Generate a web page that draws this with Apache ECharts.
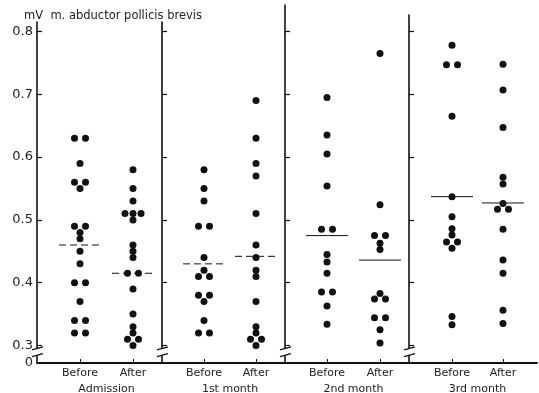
<!DOCTYPE html>
<html>
<head>
<meta charset="utf-8">
<script src="https://cdn.jsdelivr.net/npm/echarts@6/dist/echarts.min.js"></script>
<style>html,body{margin:0;padding:0;background:#fff}#c{width:539px;height:393px}</style>
</head>
<body>
<div id="c"></div>
<script>
// ---- data ----
const categories = ['Before', 'After'];
const groups = ['Admission', '1st month', '2nd month', '3rd month'];
const unitLabel = 'mV  m. abductor pollicis brevis';

const admissionBefore = [0.63, 0.63, 0.59, 0.56, 0.56, 0.55, 0.49, 0.49, 0.48, 0.47, 0.45, 0.43, 0.40, 0.40, 0.37, 0.34, 0.34, 0.32, 0.32];
const admissionAfter  = [0.58, 0.55, 0.53, 0.51, 0.51, 0.51, 0.50, 0.46, 0.45, 0.44, 0.415, 0.415, 0.39, 0.35, 0.33, 0.32, 0.31, 0.31, 0.30];
const month1Before    = [0.58, 0.55, 0.53, 0.49, 0.49, 0.44, 0.42, 0.41, 0.41, 0.38, 0.38, 0.37, 0.34, 0.32, 0.32];
const month1After     = [0.69, 0.63, 0.59, 0.57, 0.51, 0.46, 0.44, 0.42, 0.41, 0.37, 0.33, 0.32, 0.31, 0.31, 0.30];
const month2Before    = [0.695, 0.635, 0.605, 0.554, 0.485, 0.485, 0.445, 0.433, 0.415, 0.385, 0.385, 0.363, 0.334];
const month2After     = [0.765, 0.524, 0.475, 0.475, 0.463, 0.453, 0.383, 0.374, 0.374, 0.344, 0.344, 0.325, 0.304];
const month3Before    = [0.778, 0.747, 0.747, 0.665, 0.537, 0.505, 0.486, 0.476, 0.465, 0.465, 0.455, 0.346, 0.333];
const month3After     = [0.748, 0.707, 0.647, 0.568, 0.557, 0.526, 0.517, 0.517, 0.485, 0.436, 0.415, 0.356, 0.335];

const meanBefore = [0.46, 0.43, 0.475, 0.537];
const meanAfter  = [0.415, 0.442, 0.436, 0.527];

const yTicks = [0.3, 0.4, 0.5, 0.6, 0.7, 0.8];
const zeroLabel = '0';

// ---- layout ----
const INK = '#111';
const FONT = 'DejaVu Sans';
const PX_PER_UNIT = 628, Y_AT_08 = 31.5, AXIS_Y = 363, CH = 393;
const panelAxisX = [37, 162, 285, 409];
const panelCatX = [[80, 133], [204, 256], [327, 380], [452, 503]];
const panelTop = [22, 22, 5, 15];
const meanDashed = [true, true, false, false];
const valAt = py => 0.8 - (py - Y_AT_08) / PX_PER_UNIT;
const yMin = valAt(AXIS_Y);

const columns = [[admissionBefore, admissionAfter], [month1Before, month1After], [month2Before, month2After], [month3Before, month3After]];

function spread(values, ci) {
  const counts = {}, seen = {};
  values.forEach(v => counts[v] = (counts[v] || 0) + 1);
  return values.map(v => {
    const n = counts[v];
    const k = seen[v] = (seen[v] === undefined ? 0 : seen[v] + 1);
    const sp = n > 2 ? 8 : 11;
    return { value: [ci, v], symbolOffset: [(k - (n - 1) / 2) * sp, 0] };
  });
}

const grid = [], xAxis = [], yAxis = [], series = [];
for (let i = 0; i < 4; i++) {
  const [c1, c2] = panelCatX[i];
  const w = 2 * (c2 - c1), left = c1 - (c2 - c1) / 2;
  grid.push({ left: left, width: w, top: panelTop[i], bottom: CH - AXIS_Y, outerBoundsMode: 'none', containLabel: false });
  xAxis.push({
    gridIndex: i, type: 'category', data: categories, boundaryGap: true,
    axisLine: { show: false },
    axisTick: { show: true, inside: true, length: 4, alignWithLabel: true, lineStyle: { color: INK, width: 1 } },
    axisLabel: { color: '#222', fontSize: 11, fontFamily: FONT, margin: 5 },
    name: groups[i], nameLocation: 'middle', nameGap: 18,
    nameTextStyle: { color: '#222', fontSize: 11, fontFamily: FONT }
  });
  yAxis.push({
    gridIndex: i, type: 'value', min: yMin, max: valAt(panelTop[i]),
    offset: left - panelAxisX[i],
    axisLine: { show: true, lineStyle: { color: INK, width: 1.6 } },
    axisTick: { show: true, inside: true, length: 5, customValues: yTicks, lineStyle: { color: INK, width: 1.2 } },
    axisLabel: {
      show: i === 0, customValues: [yMin].concat(yTicks), margin: 4,
      color: '#222', fontSize: 13, fontFamily: FONT,
      formatter: v => (v < 0.29 ? zeroLabel : v.toFixed(1))
    },
    splitLine: { show: false }
  });
  const data = spread(columns[i][0], 0).concat(spread(columns[i][1], 1));
  series.push({
    type: 'scatter', xAxisIndex: i, yAxisIndex: i, symbol: 'circle', symbolSize: 7,
    itemStyle: { color: INK, opacity: 1 }, data: data, silent: true
  });
  series.push({
    type: 'custom', xAxisIndex: i, yAxisIndex: i, silent: true,
    data: [[0, meanBefore[i]], [1, meanAfter[i]]],
    renderItem: (function (dashed) {
      return function (params, api) {
        const p = api.coord([api.value(0), api.value(1)]);
        return {
          type: 'line',
          shape: { x1: p[0] - 21, y1: p[1], x2: p[0] + 21, y2: p[1] },
          style: { stroke: INK, lineWidth: 1, lineDash: dashed ? [7, 4] : null }
        };
      };
    })(meanDashed[i])
  });
}
// full-width baseline
grid.push({ left: panelAxisX[0], right: 2, top: 22, bottom: CH - AXIS_Y, outerBoundsMode: 'none', containLabel: false });
xAxis.push({ gridIndex: 4, type: 'value', min: 0, max: 1, axisLine: { show: true, lineStyle: { color: INK, width: 1.8 } }, axisTick: { show: false }, axisLabel: { show: false }, splitLine: { show: false } });
yAxis.push({ gridIndex: 4, type: 'value', show: false });

const chart = echarts.init(document.getElementById('c'), null, { renderer: 'canvas' });
chart.setOption({
  animation: false,
  backgroundColor: '#fff',
  title: { text: unitLabel, left: 19, top: 5, textStyle: { fontSize: 11.5, fontWeight: 'normal', color: '#222', fontFamily: FONT } },
  grid: grid, xAxis: xAxis, yAxis: yAxis, series: series
});

// axis break marks
const yA = chart.convertToPixel({ yAxisIndex: 0 }, 0.2955);
const yB = chart.convertToPixel({ yAxisIndex: 0 }, 0.2845);
const g = [];
panelAxisX.forEach(ax => {
  g.push({ type: 'rect', shape: { x: ax - 3, y: yA, width: 6, height: yB - yA }, style: { fill: '#fff' }, z: 100 });
  g.push({ type: 'line', shape: { x1: ax - 5, y1: yA + 1.5, x2: ax + 6, y2: yA - 1.5 }, style: { stroke: INK, lineWidth: 1.3 }, z: 101 });
  g.push({ type: 'line', shape: { x1: ax - 5, y1: yB + 1.5, x2: ax + 6, y2: yB - 1.5 }, style: { stroke: INK, lineWidth: 1.3 }, z: 101 });
});
chart.setOption({ graphic: g });
</script>
</body>
</html>
